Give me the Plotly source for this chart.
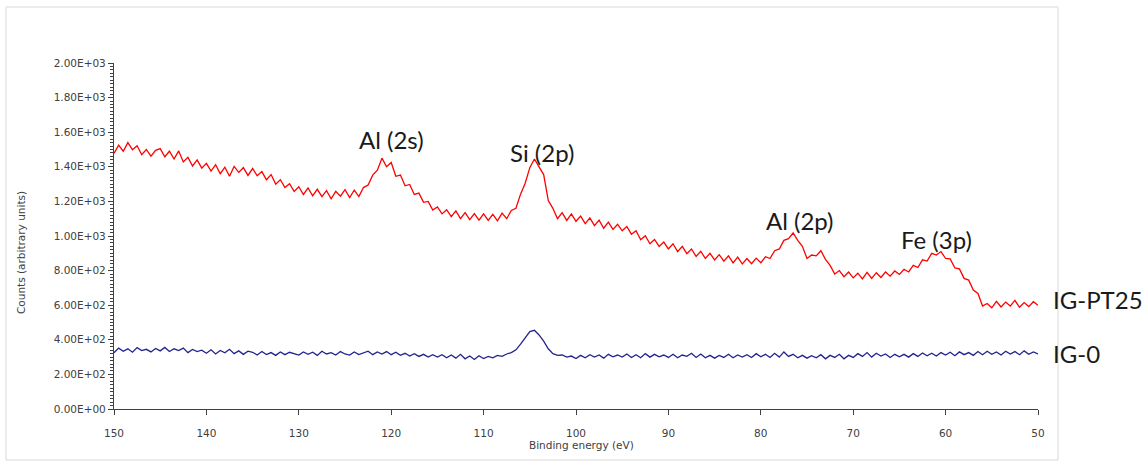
import plotly.graph_objects as go

# Binding energy grid (eV), 0.5 eV sampling from 150 down to 50
step = 0.5
start_energy = 150

# IG-PT25 counts (red)
ig_pt25 = [
    1478, 1525, 1490, 1540, 1498, 1522, 1470, 1500, 1462, 1495,
    1505, 1458, 1490, 1445, 1492, 1428, 1455, 1405, 1440, 1392,
    1420, 1375, 1412, 1360, 1398, 1345, 1402, 1368, 1395, 1350,
    1390, 1348, 1372, 1325, 1355, 1300, 1325, 1280, 1302, 1258,
    1285, 1240, 1278, 1232, 1270, 1228, 1262, 1215, 1258, 1230,
    1268, 1222, 1265, 1228, 1280, 1295, 1352, 1380, 1450, 1400,
    1425, 1345, 1352, 1290, 1298, 1240, 1248, 1195, 1200, 1150,
    1168, 1128, 1152, 1112, 1145, 1100, 1135, 1095, 1130, 1092,
    1128, 1090, 1125, 1088, 1132, 1100, 1148, 1160, 1242, 1305,
    1395, 1445, 1400, 1355, 1205, 1160, 1100, 1135, 1090, 1128,
    1085, 1115, 1072, 1105, 1060, 1092, 1045, 1080, 1038, 1068,
    1030, 1055, 1010, 1030, 978, 1002, 955, 980, 940, 965,
    925, 955, 910, 940, 898, 925, 882, 912, 870, 900,
    862, 892, 855, 885, 845, 878, 838, 870, 840, 872,
    845, 880, 870, 915, 925, 975, 985, 1018, 975, 940,
    870, 890, 885, 915, 865, 830, 780, 800, 765, 792,
    758, 785, 752, 790, 755, 788, 760, 792, 768, 798,
    778, 808, 792, 830, 818, 862, 855, 900, 890, 910,
    870, 868, 815, 810, 755, 745, 688, 668, 595, 610,
    585, 622, 590, 618, 595, 628, 588, 615, 592, 620,
    600,
]

# IG-0 counts (blue)
ig_0 = [
    325, 352, 334, 348, 328, 355, 338, 345, 330, 350,
    336, 356, 332, 348, 338, 352, 326, 344, 332, 340,
    322, 342, 318, 338, 325, 345, 320, 336, 316, 334,
    328, 312, 332, 315, 326, 310, 330, 314, 328, 318,
    312, 330, 316, 328, 310, 334, 318, 326, 312, 332,
    318, 312, 330, 315, 326, 334, 314, 330, 318, 332,
    314, 328, 310, 322, 306, 320, 304, 316, 300, 314,
    300, 314, 296, 312, 294, 316, 290, 306, 286, 308,
    292, 304, 296, 310, 304, 318, 326, 342, 375, 412,
    448, 455, 428, 392, 348, 320, 310, 312, 300, 306,
    292, 310, 296, 314, 300, 312, 294, 316, 302, 312,
    300, 318, 298, 314, 296, 320, 300, 316, 302, 312,
    298, 316, 296, 312, 304, 322, 298, 318, 296, 310,
    294, 310, 298, 316, 296, 312, 300, 314, 298, 320,
    302, 316, 298, 322, 300, 330, 304, 316, 296, 310,
    294, 308, 296, 314, 290, 310, 298, 316, 290, 310,
    298, 320, 304, 326, 300, 322, 306, 318, 298, 316,
    302, 316, 300, 320, 304, 324, 308, 322, 306, 326,
    312, 328, 308, 330, 314, 326, 310, 332, 314, 334,
    316, 330, 312, 334, 318, 332, 314, 336, 316, 330,
    318,
]

energy = [start_energy - step * i for i in range(len(ig_pt25))]

y_ticks = [0, 200, 400, 600, 800, 1000, 1200, 1400, 1600, 1800, 2000]
y_tick_text = ["0.00E+00", "2.00E+02", "4.00E+02", "6.00E+02", "8.00E+02", "1.00E+03",
               "1.20E+03", "1.40E+03", "1.60E+03", "1.80E+03", "2.00E+03"]
x_ticks = [150, 140, 130, 120, 110, 100, 90, 80, 70, 60, 50]

peak_labels = ["Al (2s)", "Si (2p)", "Al (2p)", "Fe (3p)"]
peak_x = [120.0, 103.7, 75.8, 61.0]
peak_y = [1560, 1480, 1087, 977]

series_labels = ["IG-PT25", "IG-0"]

W, H = 1147, 462
L, R, T, B = 114, 109, 63, 53
pw, ph = W - L - R, H - T - B


def px(xp):
    return (xp - L) / pw


def py(yp):
    return (H - B - yp) / ph


fig = go.Figure()
fig.add_trace(go.Scatter(x=energy, y=ig_pt25, mode="lines",
                         line=dict(color="#ff0000", width=1.3), name="IG-PT25"))
fig.add_trace(go.Scatter(x=energy, y=ig_0, mode="lines",
                         line=dict(color="#23238f", width=1.3), name="IG-0"))

tick_font = dict(family="DejaVu Sans, sans-serif", size=10.5, color="#404040")

fig.update_layout(
    width=W, height=H,
    margin=dict(l=L, r=R, t=T, b=B),
    paper_bgcolor="white", plot_bgcolor="white",
    showlegend=False,
    xaxis=dict(
        range=[150, 50], tickmode="array", tickvals=x_ticks,
        ticktext=[str(v) for v in x_ticks],
        showgrid=False, zeroline=False,
        showline=True, linecolor="#404040", linewidth=1.2,
        ticks="outside", ticklen=5, tickcolor="#404040", tickwidth=1.2,
        tickfont=tick_font, ticklabelstandoff=9,
    ),
    yaxis=dict(
        range=[0, 2000], tickmode="array", tickvals=y_ticks, ticktext=y_tick_text,
        showgrid=False, zeroline=False,
        showline=True, linecolor="#404040", linewidth=1.2,
        ticks="outside", ticklen=5, tickcolor="#404040", tickwidth=1.2,
        tickfont=tick_font,
        minor=dict(tickmode="linear", tick0=0, dtick=20, ticks="outside",
                   ticklen=3, tickcolor="#404040", tickwidth=1),
    ),
)

# outer frame
fig.add_shape(type="rect", xref="paper", yref="paper",
              x0=px(6), x1=px(1058), y0=py(460), y1=py(7),
              line=dict(color="#d9d9d9", width=1), layer="below")

ann_font = dict(family="Lato, Carlito, sans-serif", size=24, color="#1a1a1a")
for t, xv, yv in zip(peak_labels, peak_x, peak_y):
    fig.add_annotation(x=xv, y=yv, xref="x", yref="y", text=t, showarrow=False,
                       font=ann_font, xanchor="center", yanchor="middle")

for t, yp in zip(series_labels, [299, 353]):
    fig.add_annotation(x=px(1051), y=py(yp), xref="paper", yref="paper", text=t,
                       showarrow=False, font=ann_font, xanchor="left", yanchor="middle")

small_font = dict(family="DejaVu Sans, sans-serif", size=10.5, color="#404040")
fig.add_annotation(x=px(581), y=py(445), xref="paper", yref="paper",
                   text="Binding energy (eV)", showarrow=False, font=small_font,
                   xanchor="center", yanchor="middle")
fig.add_annotation(x=px(21), y=py(253), xref="paper", yref="paper",
                   text="Counts (arbitrary units)", showarrow=False, font=small_font,
                   textangle=-90, xanchor="center", yanchor="middle")

fig.write_html("out.html")
